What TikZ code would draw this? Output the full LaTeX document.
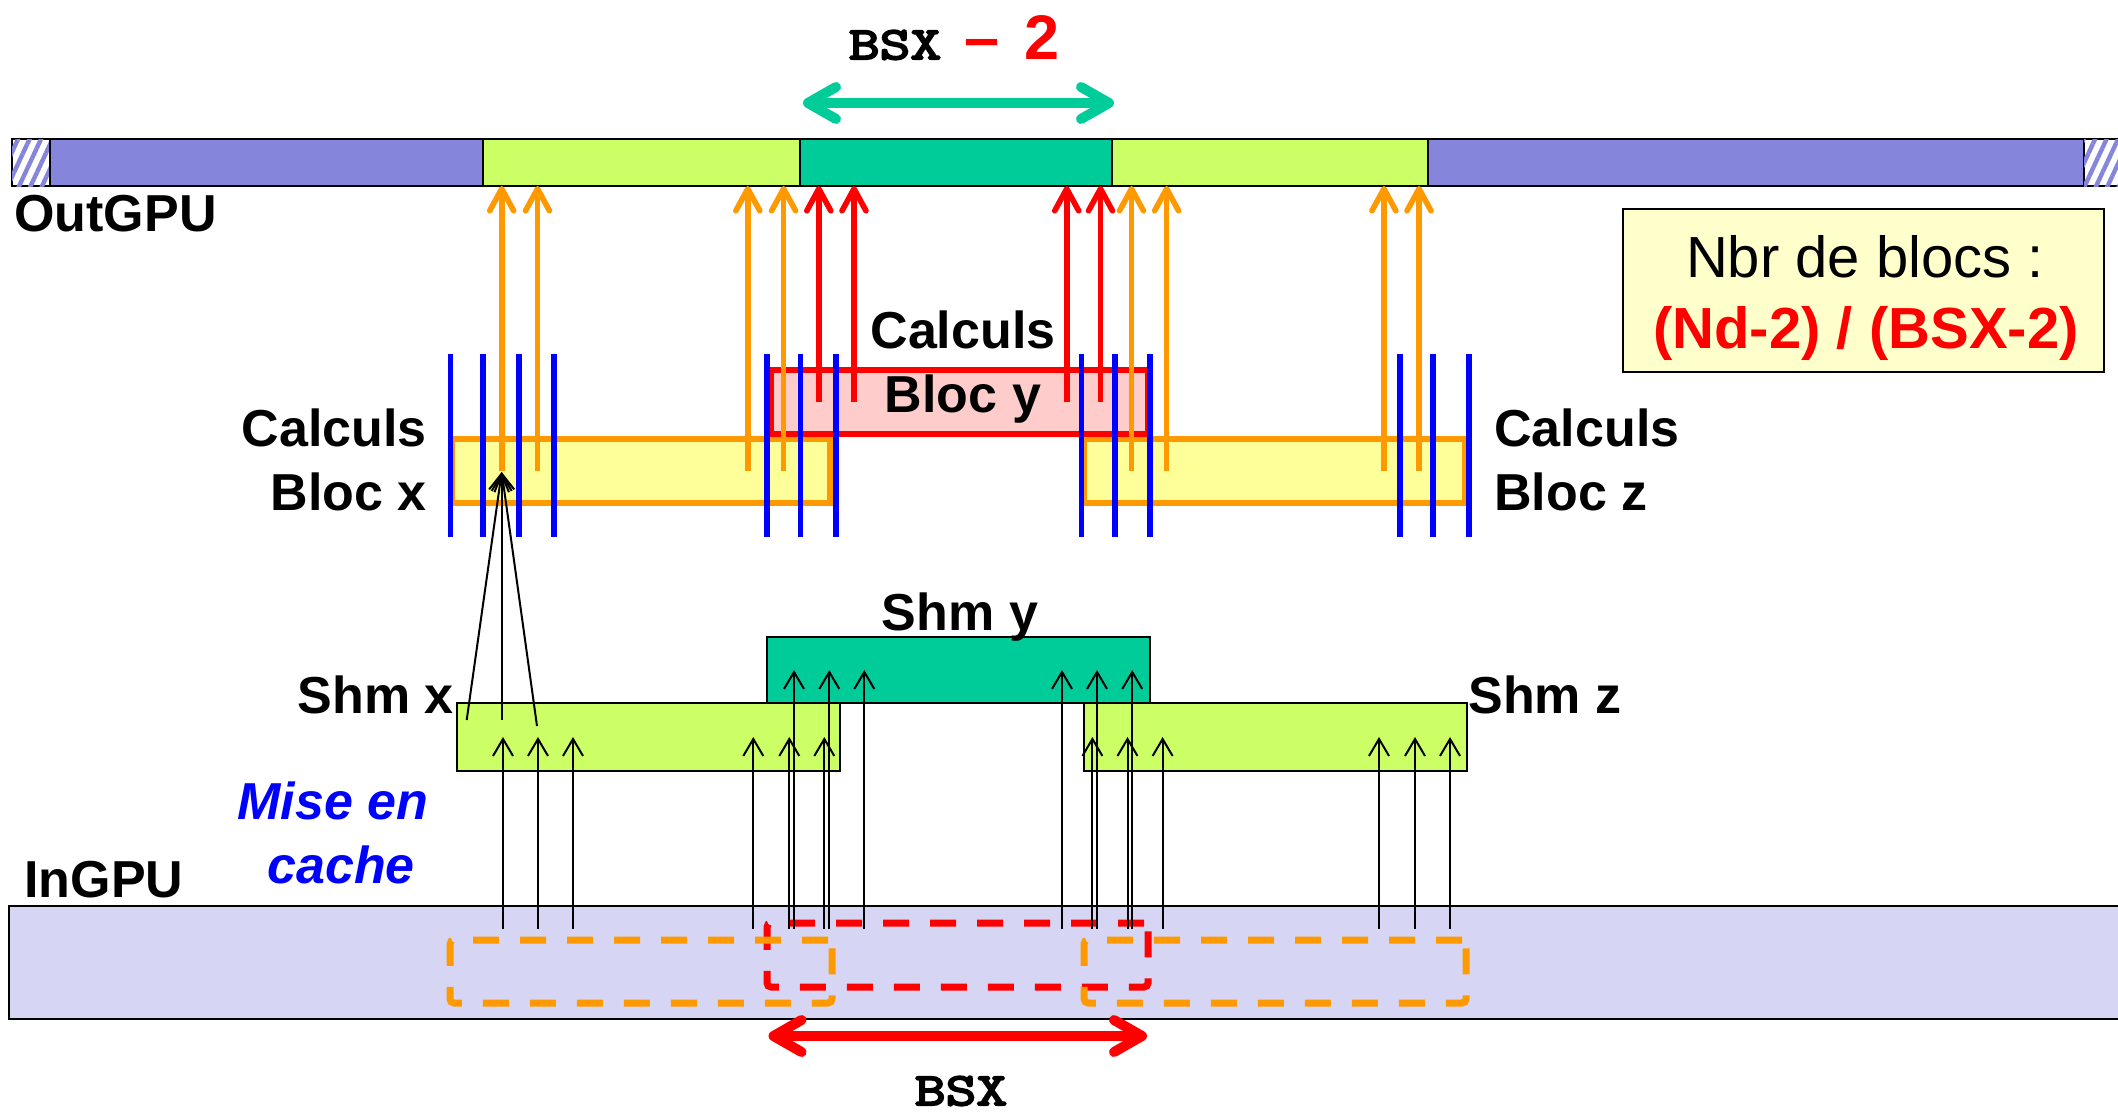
\documentclass[tikz,border=0pt]{standalone}
\usepackage{fontspec}
\setmainfont{Liberation Sans}
\newfontfamily\cour[FakeBold=4.5,FakeStretch=1.3]{Latin Modern Mono}
\usetikzlibrary{arrows.meta,patterns.meta,fit}
\definecolor{barblue}{HTML}{8585DC}
\definecolor{lgreen}{HTML}{CCFF66}
\definecolor{tealc}{HTML}{00CC99}
\definecolor{orng}{HTML}{FF9900}
\definecolor{pinkf}{HTML}{FFCCCC}
\definecolor{yelf}{HTML}{FFFF99}
\definecolor{notef}{HTML}{FFFFCC}
\definecolor{ingpuf}{HTML}{D6D6F4}
\definecolor{redc}{HTML}{FF0000}
\definecolor{bluec}{HTML}{0000FF}
\begin{document}
\begin{tikzpicture}[x=0.5pt,y=-0.5pt,
  box/.style={inner sep=0pt,outer sep=0pt},
  seg/.style={box,draw=black,line width=1.2pt},
  hatch/.style={seg,fill=white,postaction={pattern={Lines[angle=65,distance=5.2pt,line width=2.2pt]},pattern color=barblue}},
  calc/.style={box,line width=3.2pt},
  shm/.style={box,draw=black,line width=1.3pt},
  dashbox/.style={box,line width=3.5pt,dash pattern=on 13pt off 10.5pt,rounded corners=2pt},
  blueline/.style={draw=bluec,line width=2.8pt},
  orarr/.style={draw=orng,line width=2.8pt,-{Straight Barb[length=11pt,width=12pt,round]}},
  rdarr/.style={draw=redc,line width=2.8pt,-{Straight Barb[length=11pt,width=12pt,round]}},
  blkarr/.style={draw=black,line width=1pt,-{Straight Barb[length=8.5pt,width=10pt]}},
  bigarr/.style={line width=5pt,{Straight Barb[length=14pt,width=16pt,round]}-{Straight Barb[length=14pt,width=16pt,round]}},
  lbl/.style={inner sep=0pt,font=\fontsize{26}{30}\selectfont\bfseries},
  notetxt/.style={inner sep=0pt,font=\fontsize{29}{33}\selectfont},
  monotxt/.style={inner sep=0pt,font=\cour\fontsize{23}{26}\selectfont},
]
\useasboundingbox (0,0) rectangle (2118,1113);

% ---------- OutGPU bar ----------
\node[hatch,fit={(12,139) (50,186)}] (hl) {};
\node[seg,fill=barblue,fit={(50,139) (483,186)}] (bl) {};
\node[seg,fill=lgreen,fit={(483,139) (800,186)}] (gl) {};
\node[seg,fill=tealc,fit={(800,139) (1112,186)}] (tm) {};
\node[seg,fill=lgreen,fit={(1112,139) (1428,186)}] (gr) {};
\node[seg,fill=barblue,fit={(1428,139) (2084,186)}] (br) {};
\node[hatch,fit={(2084,139) (2124,186)}] (hr) {};

% ---------- note box ----------
\node[box,draw=black,line width=1.4pt,fill=notef,fit={(1623,209) (2104,372)}] (note) {};
\node[notetxt,anchor=base] (nbr) at (1865,277) {Nbr de blocs :};
\node[notetxt,anchor=base,text=redc,font=\fontsize{29}{33}\selectfont\bfseries] (frm) at (1866,348) {(Nd-2) / (BSX-2)};

% ---------- Calculs blocks ----------
\node[calc,draw=orng,fill=yelf,fit={(452,439) (830,503)}] (bx) {};
\node[calc,draw=orng,fill=yelf,fit={(1084,439) (1465,503)}] (bz) {};
\node[calc,draw=redc,fill=pinkf,fit={(771,370) (1148,434)}] (by) {};

\foreach \x in {450.5,483,519,554,767,800.5,836,1081.6,1114.7,1149.7,1400,1433,1469}
  \draw[blueline] (\x,354) -- (\x,537);

% ---------- arrows to OutGPU ----------
\foreach \x in {501.7,537.5,747.8,783.6}
  \draw[orarr] (\x,0 |- bx.center) -- (\x,0 |- gl.south);
\foreach \x in {1131.5,1166.6,1383.9,1419}
  \draw[orarr] (\x,0 |- bz.center) -- (\x,0 |- gr.south);
\foreach \x in {818.8,854,1066.7,1100.5}
  \draw[rdarr] (\x,0 |- by.center) -- (\x,0 |- tm.south);

% ---------- Shm blocks ----------
\node[shm,fill=tealc,fit={(767,637) (1150,703)}] (sy) {};
\node[shm,fill=lgreen,fit={(457,703) (840,771)}] (sx) {};
\node[shm,fill=lgreen,fit={(1084,703) (1467,771)}] (sz) {};

% ---------- InGPU ----------
\node[box,draw=black,line width=1.3pt,fill=ingpuf,fit={(9,906) (2124,1019)}] (ingpu) {};
\node[dashbox,draw=redc,fit={(767,923) (1148,987)}] (dy) {};
\node[dashbox,draw=orng,fit={(450,940) (832,1003)}] (dx) {};
\node[dashbox,draw=orng,fit={(1084,940) (1466,1003)}] (dz) {};

\coordinate (src) at (0,929);
\foreach \x in {503,538,573,753.3,789.3,824.3}
  \draw[blkarr] (\x,0 |- src) -- (\x,0 |- sx.center);
\foreach \x in {794,829.3,864.3,1062,1097,1132.2}
  \draw[blkarr] (\x,0 |- src) -- (\x,0 |- sy.center);
\foreach \x in {1092.4,1127.5,1162.6,1379,1415,1450}
  \draw[blkarr] (\x,0 |- src) -- (\x,0 |- sz.center);

% converging arrows Shm x -> Calculs Bloc x
\coordinate (conv) at (501.7,472);
\coordinate (c1) at (466.7,720);
\coordinate (c2) at (501.7,720);
\coordinate (c3) at (537,726);
\foreach \c in {c1,c2,c3}
  \draw[blkarr] (\c) -- (conv);

% ---------- double arrows ----------
\coordinate (ta) at (803,103);
\coordinate (tb) at (1114,103);
\draw[bigarr,draw=tealc] (ta) -- (tb);
\coordinate (ra) at (768.5,1036);
\coordinate (rb) at (1147,1036);
\draw[bigarr,draw=redc] (ra) -- (rb);

% ---------- labels ----------
\node[lbl,anchor=base west] (lout) at (14,231) {OutGPU};
\node[lbl,anchor=base west] (lin) at (24,897) {InGPU};
\node[lbl,anchor=base east] (lcx) at (427,446) {Calculs};
\node[lbl,anchor=base east] (lbx) at (427,510) {Bloc x};
\node[lbl,anchor=base west] (lcz) at (1494,446) {Calculs};
\node[lbl,anchor=base west] (lbz) at (1494,510) {Bloc z};
\node[lbl,anchor=base] (lcy) at (963,348) {Calculs};
\node[lbl,anchor=base] (lby) at (963,412) {Bloc y};
\node[lbl,anchor=base east] (lsx) at (454,713) {Shm x};
\node[lbl,anchor=base] (lsy) at (960,630) {Shm y};
\node[lbl,anchor=base west] (lsz) at (1468,713) {Shm z};
\node[lbl,anchor=base,text=bluec,font=\fontsize{26}{30}\selectfont\bfseries\itshape] (lm1) at (333,819) {Mise en};
\node[lbl,anchor=base,text=bluec,font=\fontsize{26}{30}\selectfont\bfseries\itshape] (lm2) at (341,883) {cache};

\node[monotxt,anchor=base] (bsxt) at (895,59) {BSX};
\node[inner sep=0pt,anchor=base,text=redc,font=\fontsize{31.5}{34}\selectfont\bfseries] (dsh) at (982,60) {–};
\node[inner sep=0pt,anchor=base,text=redc,font=\fontsize{31.5}{34}\selectfont\bfseries] (two) at (1042,60) {2};
\node[monotxt,anchor=base] (bsxb) at (961,1105) {BSX};
\end{tikzpicture}
\end{document}
